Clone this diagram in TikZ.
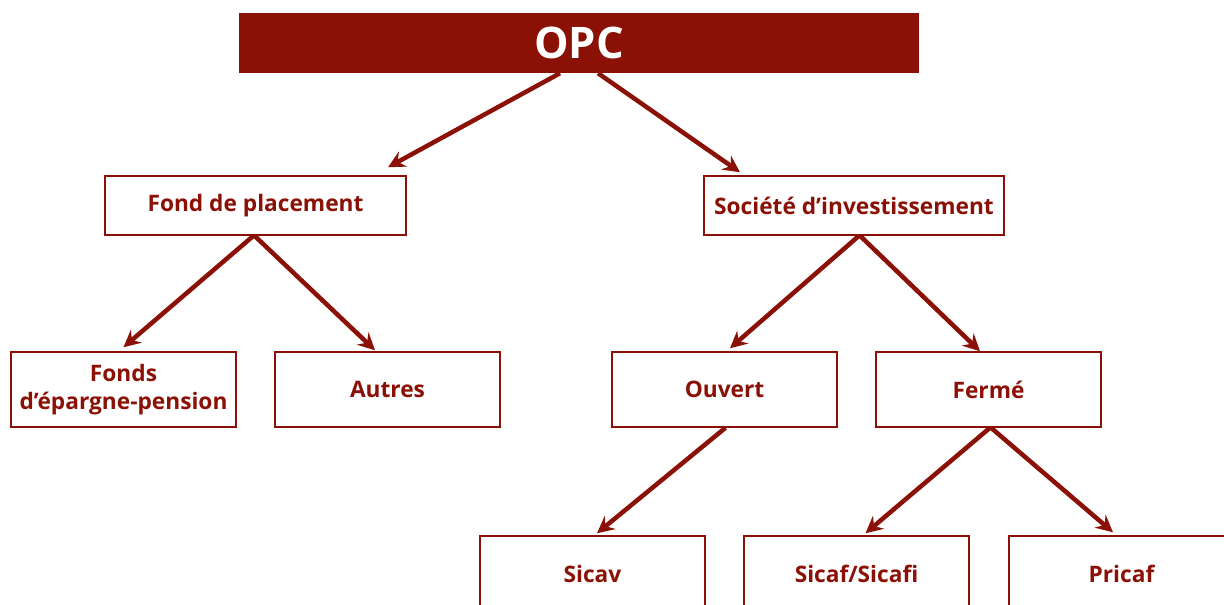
\documentclass[tikz,border=0pt]{standalone}
\usepackage{fontspec}
\setmainfont{Open Sans}
\usetikzlibrary{arrows.meta,calc}
\definecolor{opcred}{HTML}{8B1005}
\tikzset{
  box/.style={draw=opcred, line width=1.5pt, fill=white, minimum width=225pt, minimum height=75pt, inner sep=0pt, align=center, font=\fontsize{22.7}{28}\selectfont\bfseries, text=opcred},
  conn/.style={draw=opcred, line width=4.5pt, -{Stealth[length=17pt,width=17pt,inset=6pt]}},
}
\begin{document}
\begin{tikzpicture}[x=1pt,y=-1pt]
\useasboundingbox (0,0) rectangle (1224,605);
\node[fill=opcred, minimum width=680pt, minimum height=60pt, inner sep=0pt, text=white, font=\fontsize{43.5}{48}\selectfont\bfseries] (opc) at (579,43) {OPC};
\node[box, minimum width=301pt, minimum height=59pt] (fond) at (255.5,205.5) {Fond de placement};
\node[box, minimum width=300pt, minimum height=59pt] (soc) at (854,205.5) {Société d’investissement};
\node[box] (fep) at (123.5,389.5) {Fonds\\d’épargne-pension};
\node[box] (autres) at (387.5,389.5) {Autres};
\node[box] (ouvert) at (724.5,389.5) {Ouvert};
\node[box] (ferme) at (988.5,389.5) {Fermé};
\node[box] (sicav) at (592.5,573.5) {Sicav};
\node[box] (sicaf) at (856.5,573.5) {Sicaf/Sicafi};
\node[box] (pricaf) at (1121.5,573.5) {Pricaf};
\draw[conn] ($(opc.south)+(-19,0)$) -- ($(fond.north)+(132.5,-8)$);
\draw[conn] ($(opc.south)+(19,0)$) -- ($(soc.north)+(-114,-3)$);
\draw[conn] ($(fond.south)+(-2,0)$) -- ($(fep.north)+(0,-4)$);
\draw[conn] ($(fond.south)+(-1,0)$) -- ($(autres.north)+(-12.5,-1)$);
\draw[conn] ($(soc.south)+(5,0)$) -- ($(ouvert.north)+(5.5,-3)$);
\draw[conn] ($(soc.south)+(6,0)$) -- ($(ferme.north)+(-8.5,0)$);
\draw[conn] ($(ouvert.south)+(1,0)$) -- ($(sicav.north)+(4.5,-2)$);
\draw[conn] ($(ferme.south)+(1.5,0)$) -- ($(sicaf.north)+(9,-2)$);
\draw[conn] ($(ferme.south)+(2.5,0)$) -- ($(pricaf.north)+(-8.5,-3)$);
\end{tikzpicture}
\end{document}
